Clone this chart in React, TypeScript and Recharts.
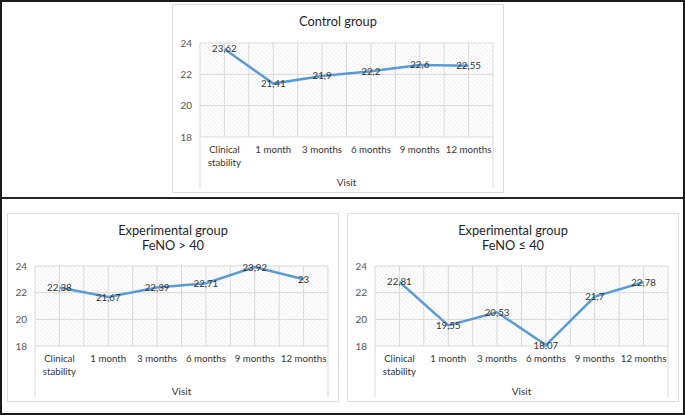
import { LineChart, Line, XAxis, YAxis, CartesianGrid, LabelList } from "recharts";

const visits = ["Clinical stability", "1 month", "3 months", "6 months", "9 months", "12 months"];
const controlValues = [23.62, 21.41, 21.9, 22.2, 22.6, 22.55];
const fenoHighValues = [22.38, 21.67, 22.39, 22.71, 23.92, 23];
const fenoLowValues = [22.81, 19.55, 20.53, 18.07, 21.7, 22.78];
const yTicks = [18, 20, 22, 24];

const PANEL_W = 332;
const PANEL_H = 189;
const Y_AXIS_W = 28;
const RIGHT_GAP = 11;
const X_AXIS_H = 56;
const PLOT_W = PANEL_W - Y_AXIS_W - RIGHT_GAP;
const STEP = PLOT_W / visits.length;

const TEXT = "#333333";
const GRID = "#d9d9d9";

// category label, wraps long names on two lines; first/last tick also draw the outer edge lines
const CategoryTick = (props: any) => {
  const { x, y, payload, index } = props;
  const label: string = payload.value;
  const lines =
    label.length > 10 && label.includes(" ")
      ? [label.slice(0, label.indexOf(" ")), label.slice(label.indexOf(" ") + 1)]
      : [label];
  return (
    <g>
      {index === 0 && (
        <line x1={x - STEP / 2} x2={x - STEP / 2} y1={y - 8} y2={y + 43} stroke={GRID} strokeWidth={1} />
      )}
      {index === visits.length - 1 && (
        <line x1={x + STEP / 2} x2={x + STEP / 2} y1={y - 8} y2={y + 43} stroke={GRID} strokeWidth={1} />
      )}
      <text x={x} y={y + 8} textAnchor="middle" fill={TEXT} fontSize={9.7}>
        {lines.map((l, i) => (
          <tspan key={i} x={x} dy={i === 0 ? 0 : 13}>
            {l}
          </tspan>
        ))}
      </text>
    </g>
  );
};

interface PanelProps {
  id: string;
  title: string[];
  values: number[];
  left: number;
  top: number;
}

function Panel({ id, title, values, left, top }: PanelProps) {
  const data = visits.map((visit, i) => ({ visit, value: values[i] }));
  const plotTop = title.length > 1 ? 53 : 39;

  return (
    <div style={{ position: "absolute", left, top, width: PANEL_W, height: PANEL_H }}>
      <div
        style={{
          position: "absolute",
          left: 0,
          top: 0,
          width: PANEL_W,
          height: PANEL_H,
          border: "1.5px solid #dcdcdc",
          boxSizing: "border-box",
        }}
      />
      <div
        style={{
          position: "absolute",
          left: 0,
          top: 10,
          width: PANEL_W,
          textAlign: "center",
          fontSize: 12.8,
          lineHeight: "15px",
          color: "#1f1f1f",
        }}
      >
        {title.map((t) => (
          <div key={t}>{t}</div>
        ))}
      </div>
      <div style={{ position: "absolute", left: 0, top: 0 }}>
        <LineChart
          width={PANEL_W}
          height={PANEL_H}
          data={data}
          margin={{ top: plotTop, right: RIGHT_GAP, bottom: 0, left: 0 }}
        >
          <defs>
            <pattern
              id={`hatch-${id}`}
              width={3}
              height={3}
              patternUnits="userSpaceOnUse"
              patternTransform="rotate(-45)"
            >
              <line x1={0} y1={0} x2={0} y2={3} stroke="#e8e8e8" strokeWidth={1.2} />
            </pattern>
          </defs>
          <CartesianGrid
            stroke={GRID}
            fill={`url(#hatch-${id})`}
            fillOpacity={1}
            verticalCoordinatesGenerator={({ offset }: any) =>
              Array.from({ length: visits.length * 2 + 1 }, (_, k) => offset.left + (k * offset.width) / (visits.length * 2))
            }
          />
          <XAxis
            dataKey="visit"
            interval={0}
            padding={{ left: STEP / 2, right: STEP / 2 }}
            axisLine={false}
            tickLine={false}
            height={X_AXIS_H}
            tick={<CategoryTick />}
            label={{ value: "Visit", position: "insideBottom", offset: 7, fill: TEXT, fontSize: 10 }}
          />
          <YAxis
            domain={[18, 24]}
            ticks={yTicks}
            interval={0}
            width={Y_AXIS_W}
            axisLine={false}
            tickLine={false}
            tick={{ fill: "#555555", fontSize: 10 }}
          />
          <Line
            type="linear"
            dataKey="value"
            stroke="#5b9bd5"
            strokeWidth={2.5}
            dot={false}
            isAnimationActive={false}
          >
            <LabelList
              dataKey="value"
              position="center"
              fill={TEXT}
              fontSize={9.7}
              formatter={(v: any) => String(v).replace(".", ",")}
            />
          </Line>
        </LineChart>
      </div>
    </div>
  );
}

export default function App() {
  return (
    <div
      style={{
        position: "absolute",
        left: 0,
        top: 0,
        width: 685,
        height: 415,
        background: "#fff",
        fontFamily: "Lato, 'Open Sans', sans-serif",
        overflow: "hidden",
      }}
    >
      <div
        style={{
          position: "absolute",
          left: 0,
          top: 0,
          width: 685,
          height: 415,
          border: "2px solid #1a1a1a",
          boxSizing: "border-box",
        }}
      />
      <div style={{ position: "absolute", left: 0, top: 197, width: 685, height: 2, background: "#222" }} />
      <Panel id="control" title={["Control group"]} values={controlValues} left={172} top={4} />
      <Panel
        id="high"
        title={["Experimental group", "FeNO > 40"]}
        values={fenoHighValues}
        left={7}
        top={213}
      />
      <Panel
        id="low"
        title={["Experimental group", "FeNO ≤ 40"]}
        values={fenoLowValues}
        left={347}
        top={213}
      />
    </div>
  );
}
